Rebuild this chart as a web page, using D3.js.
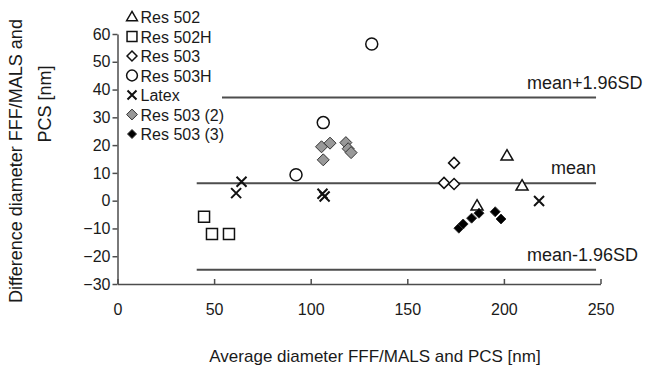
<!DOCTYPE html>
<html>
<head>
<meta charset="utf-8">
<script src="https://cdn.jsdelivr.net/npm/d3@7"></script>
<style>
  body { margin: 0; background: #fff; }
  svg text { font-family: "Liberation Sans", Arial, sans-serif; fill: #1a1a1a; }
</style>
</head>
<body>
<div id="chart"></div>
<script>
// data: [average, difference]
const res502   = [[186.1, -1.9], [201.6, 16.1], [209.4, 5.3]];
const res502H  = [[44.8, -5.8], [48.9, -12], [57.7, -12]];
const res503   = [[174.2, 13.6], [169.0, 6.4], [174.2, 6.0]];
const res503H  = [[92.4, 9.3], [106.5, 28.1], [131.6, 56.4]];
const latex    = [[61.4, 2.7], [64.2, 6.8], [106.1, 2.5], [107.2, 1.5], [218.2, -0.1]];
const res503_2 = [[105.6, 19.4], [110.0, 20.7], [106.5, 14.7], [118.2, 20.9], [119.4, 18.7], [120.9, 17.3]];
const res503_3 = [[176.7, -9.9], [178.9, -8.4], [183.3, -6.3], [187.1, -4.5], [195.5, -4], [198.5, -6.6]];

const xTicks = [0, 50, 100, 150, 200, 250];
const yTicks = [-30, -20, -10, 0, 10, 20, 30, 40, 50, 60];

// limits of agreement
const refLines = [
  { name: "mean+1.96SD", value: 37.1 },
  { name: "mean", value: 6.3 },
  { name: "mean-1.96SD", value: -24.9 }
];
const refFrom = 41, refTo = 247.7;

const W = 656, H = 368;
const svg = d3.select("#chart").append("svg")
  .attr("width", W).attr("height", H);

const x = d3.scaleLinear().domain([0, 250]).range([117.5, 600.5]);
const y = d3.scaleLinear().domain([-30, 60]).range([284, 34]);

// marker shapes, sizes in px
function shapePath(kind, r) {
  if (kind === "triangle") {
    const h = r * Math.sqrt(3);
    return `M0,${-h * 0.6}L${r},${h * 0.4}L${-r},${h * 0.4}Z`;
  }
  if (kind === "square") return `M${-r},${-r}H${r}V${r}H${-r}Z`;
  if (kind === "diamond") return `M0,${-r}L${r},0L0,${r}L${-r},0Z`;
  if (kind === "circle") return `M${r},0A${r},${r} 0 1,1 ${-r},0A${r},${r} 0 1,1 ${r},0Z`;
  if (kind === "x") return `M${-r},${-r}L${r},${r}M${-r},${r}L${r},${-r}`;
  return "";
}

const series = [
  { label: "Res 502", data: res502, kind: "triangle", r: 6, fill: "#fff", stroke: "#111", sw: 1.5 },
  { label: "Res 502H", data: res502H, kind: "square", r: 5.5, fill: "#fff", stroke: "#111", sw: 1.5 },
  { label: "Res 503", data: res503, kind: "diamond", r: 5.5, fill: "#fff", stroke: "#111", sw: 1.5 },
  { label: "Res 503H", data: res503H, kind: "circle", r: 6, fill: "#fff", stroke: "#111", sw: 1.5 },
  { label: "Latex", data: latex, kind: "x", r: 5, fill: "none", stroke: "#111", sw: 2 },
  { label: "Res 503 (2)", data: res503_2, kind: "diamond", r: 6, fill: "#999", stroke: "#333", sw: 1 },
  { label: "Res 503 (3)", data: res503_3, kind: "diamond", r: 5, fill: "#000", stroke: "#333", sw: 1 }
];

// axes
const yAxis = svg.append("g")
  .attr("transform", `translate(${x(0)},0)`)
  .call(d3.axisLeft(y).tickValues(yTicks).tickSize(5).tickSizeOuter(0).tickPadding(2));
const xAxis = svg.append("g")
  .attr("transform", `translate(0,${y(-30)})`)
  .call(d3.axisBottom(x).tickValues(xTicks).tickSizeInner(-5).tickSizeOuter(0).tickPadding(20));

[yAxis, xAxis].forEach(g => {
  g.select(".domain").attr("stroke", "#4d4d4d").attr("stroke-width", 1.5);
  g.selectAll(".tick line").attr("stroke", "#4d4d4d").attr("stroke-width", 1.5);
  g.selectAll(".tick text").style("font-size", "16px").attr("fill", "#1a1a1a");
});

// reference lines
svg.selectAll(".ref").data(refLines).enter().append("line")
  .attr("class", "ref")
  .attr("x1", x(refFrom)).attr("x2", x(refTo))
  .attr("y1", d => y(d.value)).attr("y2", d => y(d.value))
  .attr("stroke", "#4d4d4d").attr("stroke-width", 2);

svg.selectAll(".ref-label").data(refLines).enter().append("text")
  .attr("class", "ref-label")
  .attr("x", d => d.name === "mean" ? x(refTo) : 527)
  .attr("y", d => y(d.value) - 9)
  .attr("text-anchor", d => d.name === "mean" ? "end" : "start")
  .style("font-size", "18px")
  .text(d => d.name);

// points
series.forEach(s => {
  svg.append("g").selectAll("path").data(s.data).enter().append("path")
    .attr("transform", d => `translate(${x(d[0])},${y(d[1])})`)
    .attr("d", shapePath(s.kind, s.r))
    .attr("fill", s.fill).attr("stroke", s.stroke).attr("stroke-width", s.sw);
});

// legend with white background
const legend = svg.append("g");
legend.append("rect")
  .attr("x", 124).attr("y", 5).attr("width", 98).attr("height", 140)
  .attr("fill", "#fff");
series.forEach((s, i) => {
  const cy = 17 + i * 19.5;
  legend.append("path")
    .attr("transform", `translate(132,${cy})`)
    .attr("d", shapePath(s.kind, s.r * 0.9))
    .attr("fill", s.fill).attr("stroke", s.stroke).attr("stroke-width", s.sw);
  legend.append("text")
    .attr("x", 140.5).attr("y", cy + 6)
    .style("font-size", "16px")
    .text(s.label);
});

// axis titles
svg.append("text")
  .attr("x", 375).attr("y", 362)
  .attr("text-anchor", "middle")
  .style("font-size", "17px")
  .text("Average diameter FFF/MALS and PCS [nm]");

svg.append("text")
  .attr("transform", "translate(22,161) rotate(-90)")
  .attr("text-anchor", "middle")
  .style("font-size", "18px")
  .text("Difference diameter FFF/MALS and");
svg.append("text")
  .attr("transform", "translate(51,104) rotate(-90)")
  .attr("text-anchor", "middle")
  .style("font-size", "18px")
  .text("PCS [nm]");
</script>
</body>
</html>
